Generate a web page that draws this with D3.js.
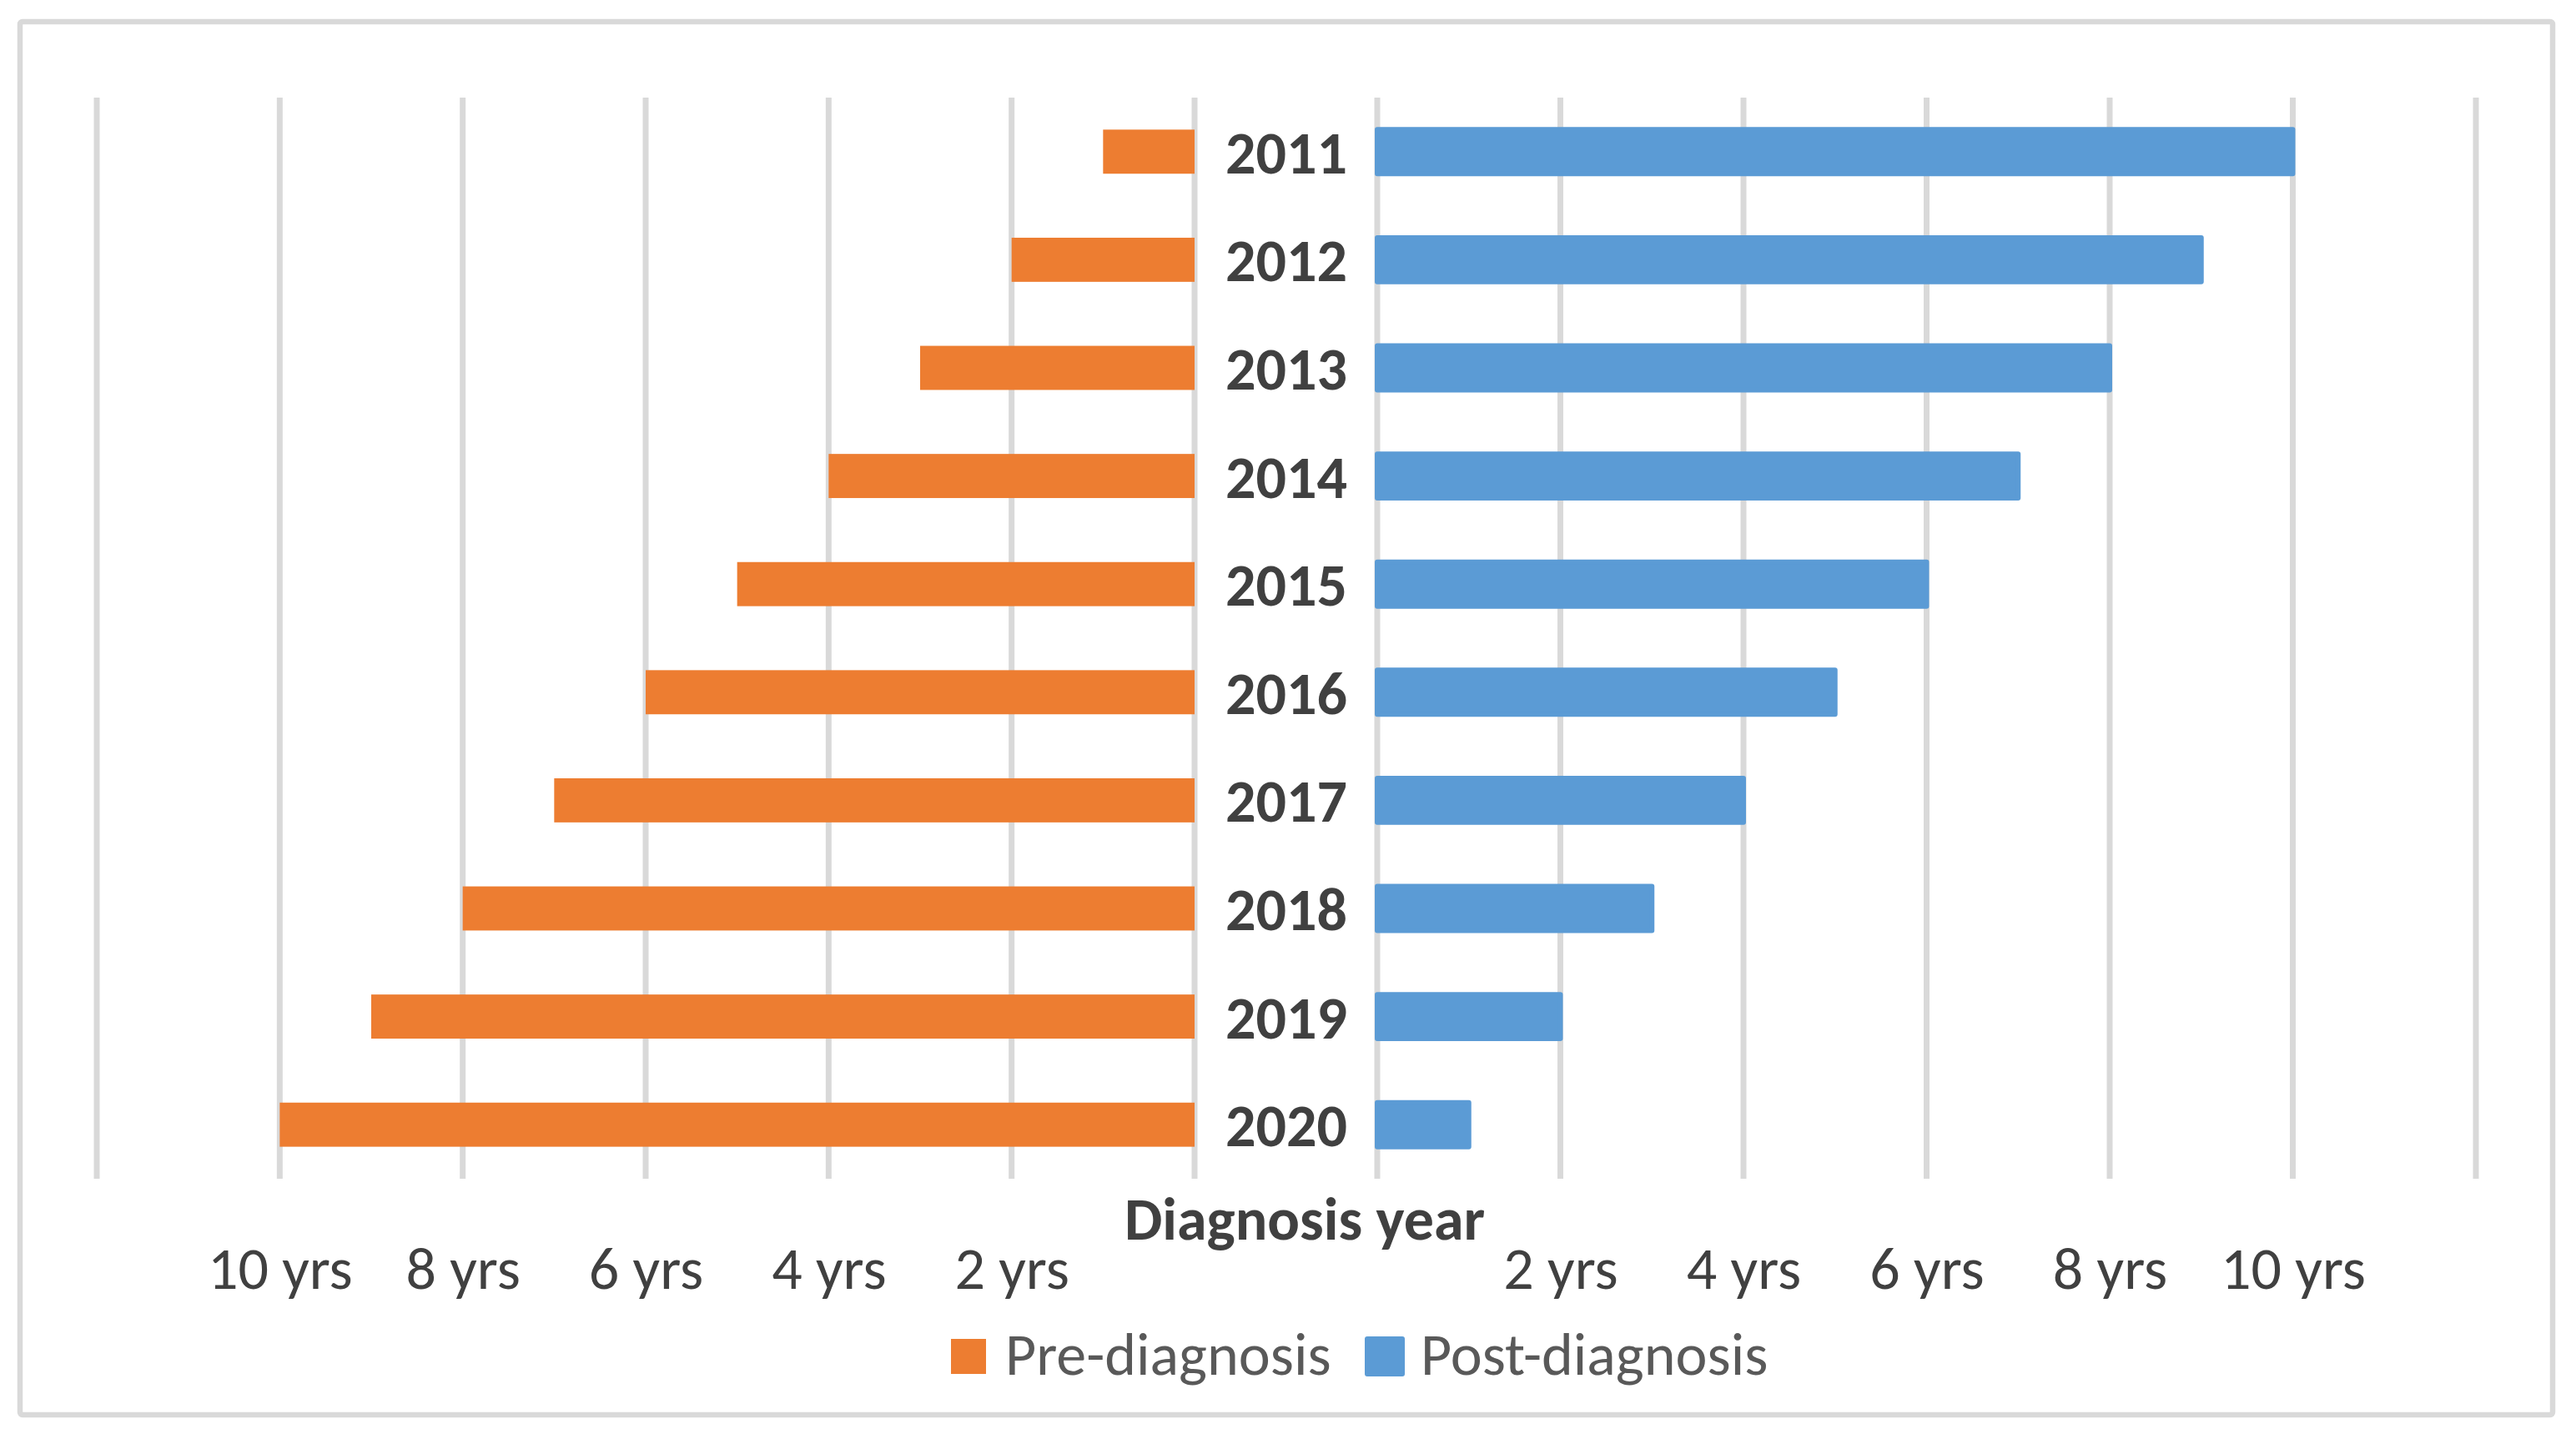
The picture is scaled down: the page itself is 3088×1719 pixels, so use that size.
<!DOCTYPE html>
<html>
<head>
<meta charset="utf-8">
<script src="https://cdn.jsdelivr.net/npm/d3@7"></script>
<style>
  html, body { margin: 0; padding: 0; background: #ffffff; }
  svg { display: block; }
</style>
</head>
<body>
<svg id="chart" width="3088" height="1719"></svg>
<script>
// ---- data ----
const years = ["2011","2012","2013","2014","2015","2016","2017","2018","2019","2020"];
const preDiagnosis  = [1, 2, 3, 4, 5, 6, 7, 8, 9, 10];
const postDiagnosis = [10, 9, 8, 7, 6, 5, 4, 3, 2, 1];
const leftTickValues  = [10, 8, 6, 4, 2];
const rightTickValues = [2, 4, 6, 8, 10];
const gridValues = [0, 2, 4, 6, 8, 10, 12];
const seriesNames = ["Pre-diagnosis", "Post-diagnosis"];
const axisTitle = "Diagnosis year";

// ---- styles ----
const ORANGE = "#ED7D31", BLUE = "#5B9BD5", GRID = "#D9D9D9";
const FONT = "Calibri, Carlito, Lato, 'Open Sans', sans-serif";

const svg = d3.select("#chart");
svg.append("rect").attr("x",0).attr("y",0).attr("width",3088).attr("height",1719).attr("fill","#fff");

// outer chart border
svg.append("rect")
  .attr("x", 24).attr("y", 26).attr("width", 3036).attr("height", 1670)
  .attr("rx", 3)
  .attr("fill", "#fff").attr("stroke", GRID).attr("stroke-width", 6.5);

// scales
const plotTop = 117, plotBottom = 1413;
const y = d3.scaleBand().domain(years).range([plotTop, plotBottom])
  .paddingInner(0.592).paddingOuter(0.296);
const xL = d3.scaleLinear().domain([0, 12]).range([1432, 116]);
const xR = d3.scaleLinear().domain([0, 12]).range([1651, 2968]);

// gridlines
const grid = svg.append("g");
[xL, xR].forEach(sc => {
  grid.selectAll(null).data(gridValues).enter().append("line")
    .attr("x1", d => sc(d)).attr("x2", d => sc(d))
    .attr("y1", plotTop).attr("y2", plotBottom)
    .attr("stroke", GRID).attr("stroke-width", 7);
});

// bars
const rows = years.map((yr, i) => ({ yr, pre: preDiagnosis[i], post: postDiagnosis[i] }));
svg.append("g").selectAll("rect").data(rows).enter().append("rect")
  .attr("x", d => xL(d.pre)).attr("width", d => xL(0) - xL(d.pre))
  .attr("y", d => y(d.yr)).attr("height", y.bandwidth())
  .attr("fill", ORANGE);
svg.append("g").selectAll("rect").data(rows).enter().append("rect")
  .attr("x", d => xR(0)).attr("width", d => xR(d.post) - xR(0))
  .attr("y", d => y(d.yr)).attr("height", y.bandwidth())
  .attr("fill", BLUE).attr("stroke", BLUE).attr("stroke-width", 6)
  .attr("stroke-linejoin", "round");

// year labels
svg.append("g").selectAll("text").data(rows).enter().append("text")
  .attr("x", 1542).attr("y", d => y(d.yr) + y.bandwidth() / 2 + 26)
  .attr("text-anchor", "middle")
  .attr("font-family", FONT).attr("font-weight", "bold").attr("font-size", 72)
  .attr("fill", "#404040")
  .text(d => d.yr);

// axes (labels only)
function styleAxis(g) {
  g.select(".domain").remove();
  g.selectAll(".tick line").remove();
  g.selectAll(".tick text")
    .attr("y", 0).attr("dy", 0)
    .attr("font-family", FONT).attr("font-size", 72)
    .attr("fill", "#404040");
}
svg.append("g").attr("transform", "translate(0,1545)")
  .call(d3.axisBottom(xL).tickValues(leftTickValues).tickFormat(d => d + " yrs").tickSize(0))
  .call(styleAxis);
svg.append("g").attr("transform", "translate(0,1545)")
  .call(d3.axisBottom(xR).tickValues(rightTickValues).tickFormat(d => d + " yrs").tickSize(0))
  .call(styleAxis);

// axis title
svg.append("text")
  .attr("x", 1564).attr("y", 1486).attr("text-anchor", "middle")
  .attr("font-family", FONT).attr("font-weight", "bold").attr("font-size", 72)
  .attr("fill", "#404040").text(axisTitle);

// legend
const legend = [
  { name: seriesNames[0], color: ORANGE, x: 1140, stroke: false, tx: 1205 },
  { name: seriesNames[1], color: BLUE,   x: 1639, stroke: true,  tx: 1703 }
];
const lg = svg.append("g");
legend.forEach(l => {
  lg.append("rect").attr("x", l.x).attr("y", 1605).attr("width", 42).attr("height", 42)
    .attr("fill", l.color)
    .attr("stroke", l.stroke ? l.color : "none").attr("stroke-width", 6)
    .attr("stroke-linejoin", "round");
  lg.append("text").attr("x", l.tx).attr("y", 1648)
    .attr("font-family", FONT).attr("font-size", 72).attr("fill", "#595959")
    .text(l.name);
});
</script>
</body>
</html>
